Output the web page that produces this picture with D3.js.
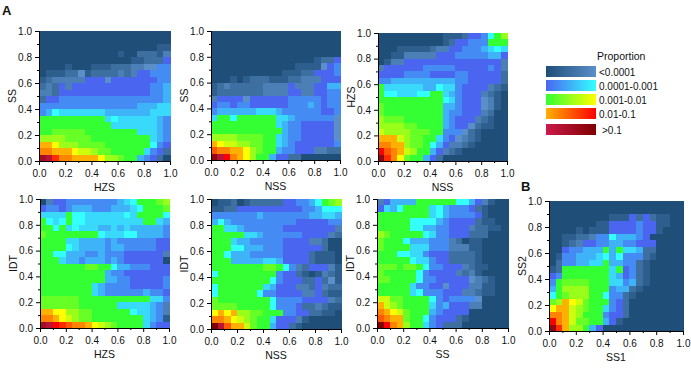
<!DOCTYPE html>
<html>
<head>
<meta charset="utf-8">
<script src="https://cdn.jsdelivr.net/npm/d3@7"></script>
<style>
  html, body { margin: 0; padding: 0; background: #fff; }
  svg { display: block; }
  text { font-family: "Liberation Sans", Arial, sans-serif; fill: #111; }
  .axis text { font-size: 10px; font-family: "Liberation Sans", Arial, sans-serif; }
  .axis path, .axis line { stroke: #000; }
  .cell { shape-rendering: crispEdges; }
</style>
</head>
<body>
<svg id="chart" width="691" height="375"></svg>
<script>
// heat map cells, top row (1.0) first, left column (0.0) first.
// letters a-y: five steps inside each of the five legend bands
var hzsSs = [
  'aaaaa aaaaa aaaaa aaaaa', 'aaaaa aaaaa aaaaa aaaaa', 'aaaaa aaaaa aaaaa aaabb', 'aaaaa aaaaa aabaa cccbd',
  'aaaaa aaaaa aaaab bcccf', 'aaaab aaabb bcccd deegg', 'abbbc cebcc ccdcd ffggg', 'bcddd ddfff effff fffgg',
  'cdcfd fffff fffff ffggh', 'ddcff fffff fffff ffggh', 'cffgg ggggg ggggg ggggh', 'ggggg ggggg ggggg hhhii',
  'ghjii iiiii hhhhh hhiii', 'kkkkk kkkkk ijiii iiihg', 'kkkkk kkkkk kiiii iiihg', 'kklll llkkk kkkkk iiihg',
  'mmmml lllkk kkkkk kkihg', 'ppomm mllll kkkkk kkjgf', 'qqppp onnml lkkkk kigfc', 'wvsqq ppppo mmlkk hgfca'
];
var nssSs = [
  'aaaaa aaaaa aaaaa aaaaa', 'aaaaa aaaaa aaaaa aaaaa', 'aaaaa aaaaa aaaaa aaaaa', 'aaaaa aaaaa aaaaa aaaaa',
  'aaaaa aaaaa aaaaa abccf', 'aaaaa aaaaa aaabb bbefg', 'aaaaa aaaaa abbbc cfffg', 'aaaba bcccb bbccd ddfff',
  'bcdcc cccdd ddfdd dffhh', 'bcccc cccdd ddffd dffgg', 'dffff effff ffggg ggfgg', 'fggfg gffff ffggg hgfgg',
  'ghhhh hhiii hgggg ggffg', 'ikkjk kkkkk iihgg gggge', 'kkkkk kkkkk ihggf ffffe', 'kkkkk kkkkk khggf ffffe',
  'mmmml lllkk ihggf ffffe', 'ponnm mllkk ihgff ffffg', 'rqqpp omlkk hggff fddcc', 'xvtqp omkkh ffcca aaaaa'
];
var nssHzs = [
  'aaaaa aaaaa bbbcf fgjkm', 'aaaaa aaaaa bcffg ggkkk', 'aaabb bbbcd dffgg ghiji', 'aabbd ddddf ffggg gghhf',
  'abddf fffff fffff ffffd', 'dffff ffggg ggfff ffgfd', 'ffffg gggff ffggf ffffc', 'gghhh hhhhh hhggf ffffc',
  'kiiii iihhj iigff ffdcb', 'kjjii ijjkk ihgff fdcba', 'kkkkk kkkkk jigff fedba', 'lkkkk kkkkk hhgff fedba',
  'lkkkk kkkkk hggff fdcaa', 'mlllk kkkkk hgfff dcbaa', 'mmmml lkkkk hgffe cbbaa', 'nmmmm lllkk gggec baaaa',
  'pppnm llkki gfedc baaaa', 'qqppm llkjh fddcb aaaaa', 'trqpn mkkhf dcbaa aaaaa', 'xsqol kkhfc aaaaa aaaaa'
];
var hzsIdt = [
  'adffg ggggg gghij kkklm', 'fggfg hhhgg ghhhi jkkkl', 'iiiik jjiii iiiji kkkkj', 'kjijk jjiii iiiii ikkih',
  'kkjki jiiih hihih hhhhg', 'lkkkk kkkkj iiijj hhhhg', 'kkkki ihhhh ghggg gggff', 'kkkkj ihhhh ghhgg gggff',
  'kkjjh hhggh gggff ffffd', 'kkkih hghhh ghgff ffffa', 'kkkkk kkllk kjhhg ggfff', 'kkkkk kkkkk hggff fffff',
  'kkkkk kkkkk hhggf ffffg', 'kkkkk kkkih ggggf ffffg', 'kkkkk kkkih ggggg ghggf', 'lllll lkkkk kkkkk kkiig',
  'lllll lkkkk kkiii iihgd', 'ppoom mllkk kkkkj iihgd', 'qqpon mllkk kkkkk kihgb', 'wvtsr qqpon mlkkk kigff'
];
var nssIdt = [
  'abbca bcccc cffgg hjklm', 'bbccf fffff ffffg ghjjj', 'ggggg gghgg ggggg hhiih', 'hjhgg ggggg gggff fffgg',
  'kkiih ggggg gffff ffffd', 'kkkkk iihgg ggggf fffdc', 'kkkih hgggg gffff ddcaa', 'kkkjj hhhgg gffff ffcaa',
  'kkjhh hgggg gffff cbbba', 'kkkhh hhhii hffff cbbba', 'kkkkk kkkll kjgdc fffdb', 'jkkkk kkkkk gffcb abdcb',
  'kkkkk kkkkj gfffc cfceb', 'jkkkk kkkih fffdd cfdcc', 'jkkkk kkjgg ffffd dfcbb', 'lkkkk kkkkj ggggf fffdc',
  'llllk kkkkj gggfc cdcbb', 'opopm mllkk kggff ccbba', 'qqpon mlkki fffdb aaaaa', 'yvrpp nlkkh ffcba aaaaa'
];
var ssIdt = [
  'dfhhh hkkkk kkjjh fdbaa', 'fihjk kkkij hgggf cbaaa', 'kkkkk kkkij hgggg fbaaa', 'kkkkk jjjjh gffff cbbaa',
  'kkkkk jjhhg gfffd ccbba', 'mlkkk kkjig gfffc ccaaa', 'lkkkj hhhgg gdcab baaaa', 'lkkkk iiigg gdddb baaaa',
  'kkkjj iigff fcccc baaaa', 'kkkkk jiigf fcccc baaaa', 'lllkl lkjgg fffdc bbaaa', 'lkkkk kjgff ffdcd baaaa',
  'llkkk kjggf ffffe dcbaa', 'kkkkk iggff efffd dbbaa', 'kkkkk ijggg fffdd cbbaa', 'nnllk kkkjg fgggg eaaaa',
  'pnmlk kkkig hfffd daaaa', 'qponl kkkhg ffffa aaaaa', 'rqppl kkjgf ffcba aaaaa', 'ytqpm kkigf cccaa aaaaa'
];
var ss1Ss2 = [
  'aaaaa aaaaa aaaaa aaaaa', 'aaaaa aaaaa aaaaa aaaaa', 'aaaaa aaaab bbfcf cbbaa', 'aaaaa aabbf fffgf fbbaa',
  'aaaab abbbf fffgf fbaaa', 'aabbc cdggj hhhgf aaaaa', 'aabcd ffggh hggff faaaa', 'aafgg hhhkh kiihc caaaa',
  'abggh hhijh jgggc baaaa', 'acggh hiikh hggcb aaaaa', 'bckkk kkkki kfgcb aaaaa', 'fgkkk kkkki hfgcb aaaaa',
  'gklll lkkki ighcb aaaaa', 'hkmmm mkkkg hhcba aaaaa', 'jklmm mkkjg gcbaa aaaaa', 'lmpon lkkkg fcaaa aaaaa',
  'oppnm lkkig fcaaa aaaaa', 'qqpnm kkkgf fcaaa aaaaa', 'tqpnl lkkhf baaaa aaaaa', 'xspmm khfaa aaaaa aaaaa'
];

var legendLabels = ['<0.0001', '0.0001-0.001', '0.001-0.01', '0.01-0.1', '>0.1'];
var bandColors = [
  ['#1f4e79', '#5b8fc9'], ['#4a66f0', '#33ffff'], ['#33ff33', '#ffff00'],
  ['#ffb000', '#ff0000'], ['#cc1a4a', '#800000']
];
var tickValues = [0, 0.2, 0.4, 0.6, 0.8, 1];
var minorValues = [0.1, 0.3, 0.5, 0.7, 0.9];

var panels = [
  { cells: hzsSs, xName: 'HZS', yName: 'SS', left: 39, right: 170, top: 31, bottom: 161 },
  { cells: nssSs, xName: 'NSS', yName: 'SS', left: 211, right: 340, top: 31, bottom: 160 },
  { cells: nssHzs, xName: 'NSS', yName: 'HZS', left: 378, right: 507, top: 33, bottom: 161 },
  { cells: hzsIdt, xName: 'HZS', yName: 'IDT', left: 40, right: 169, top: 199, bottom: 328 },
  { cells: nssIdt, xName: 'NSS', yName: 'IDT', left: 211, right: 341, top: 199, bottom: 329 },
  { cells: ssIdt, xName: 'SS', yName: 'IDT', left: 377, right: 508, top: 199, bottom: 328 },
  { cells: ss1Ss2, xName: 'SS1', yName: 'SS2', left: 549, right: 683, top: 201, bottom: 331 }
];

var color = d3.scaleLinear()
  .domain([0, 0.8, 1, 1.8, 2, 2.8, 3, 3.8, 4, 4.8])
  .range(d3.merge(bandColors));

function level(letter) {
  return (letter.charCodeAt(0) - 97) / 5;
}

var svg = d3.select('#chart');
var defs = svg.append('defs');

function drawPanel(p) {
  var g = svg.append('g');
  var x = d3.scaleLinear().domain([0, 1]).range([p.left, p.right]);
  var y = d3.scaleLinear().domain([0, 1]).range([p.bottom, p.top]);
  var cellW = x(0.05) - x(0);
  var cellH = y(0) - y(0.05);

  p.cells.forEach(function (row, r) {
    g.selectAll(null)
      .data(row.replace(/ /g, '').split(''))
      .enter().append('rect')
      .attr('class', 'cell')
      .attr('x', function (d, i) { return x(i * 0.05); })
      .attr('y', y(1 - r * 0.05))
      .attr('width', cellW + 0.5)
      .attr('height', cellH + 0.5)
      .attr('fill', function (d) { return color(level(d)); });
  });

  // minor ticks first, then the labelled ones on top
  g.append('g').attr('class', 'axis').attr('transform', 'translate(0,' + p.bottom + ')')
    .call(d3.axisBottom(x).tickValues(minorValues).tickSize(2).tickFormat(''));
  g.append('g').attr('class', 'axis').attr('transform', 'translate(' + p.left + ',0)')
    .call(d3.axisLeft(y).tickValues(minorValues).tickSize(2).tickFormat(''));
  g.append('g').attr('class', 'axis').attr('transform', 'translate(0,' + p.bottom + ')')
    .call(d3.axisBottom(x).tickValues(tickValues).tickSize(4).tickPadding(5).tickFormat(d3.format('.1f')));
  g.append('g').attr('class', 'axis').attr('transform', 'translate(' + p.left + ',0)')
    .call(d3.axisLeft(y).tickValues(tickValues).tickSize(4).tickPadding(3).tickFormat(d3.format('.1f')));

  g.append('text')
    .attr('x', (p.left + p.right) / 2)
    .attr('y', p.bottom + 30)
    .attr('text-anchor', 'middle')
    .style('font-size', '10.5px')
    .text(p.xName);
  g.append('text')
    .attr('transform', 'translate(' + (p.left - 23) + ',' + (p.top + p.bottom) / 2 + ') rotate(-90)')
    .attr('text-anchor', 'middle')
    .style('font-size', '10.5px')
    .text(p.yName);
}

panels.forEach(drawPanel);

// legend
var legendTop = [66, 80, 94, 108, 124];
svg.append('text').attr('x', 597).attr('y', 60).style('font-size', '10.5px').text('Proportion');
legendLabels.forEach(function (label, i) {
  var grad = defs.append('linearGradient').attr('id', 'band' + i);
  grad.append('stop').attr('offset', '0%').attr('stop-color', bandColors[i][0]);
  grad.append('stop').attr('offset', '100%').attr('stop-color', bandColors[i][1]);
  svg.append('rect')
    .attr('x', 546).attr('y', legendTop[i])
    .attr('width', 50).attr('height', 11)
    .attr('fill', 'url(#band' + i + ')');
  svg.append('text')
    .attr('x', i === 4 ? 602 : 599)
    .attr('y', legendTop[i] + 10)
    .style('font-size', '10px')
    .text(label);
});

svg.append('text').attr('x', 2).attr('y', 15).style('font-size', '13px').style('font-weight', 'bold').text('A');
svg.append('text').attr('x', 521).attr('y', 191).style('font-size', '13px').style('font-weight', 'bold').text('B');
</script>
</body>
</html>
